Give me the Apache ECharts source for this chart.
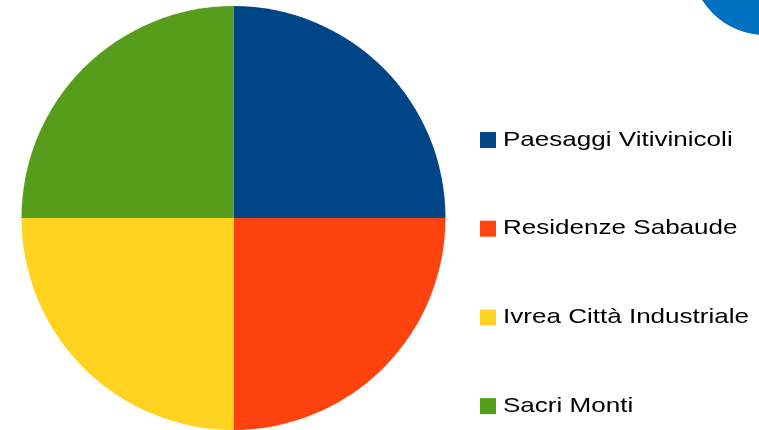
<!DOCTYPE html>
<html>
<head>
<meta charset="utf-8">
<script src="https://cdn.jsdelivr.net/npm/echarts@6/dist/echarts.min.js"></script>
<style>
  html, body { margin: 0; padding: 0; background: #fff; }
  #pie { width: 759px; height: 430px; }
</style>
</head>
<body>
<div id="pie"></div>
<script>
// categories and values
const categories = ['Paesaggi Vitivinicoli', 'Residenze Sabaude', 'Ivrea Città Industriale', 'Sacri Monti'];
const values = [1, 1, 1, 1];
const colors = ['#004586', '#ff420e', '#ffd320', '#579d1c'];

// legend layout (the labels in the picture are drawn wide, so they get stretched)
const legendTop = 132;
const legendStep = 88.7;

let myChart = echarts.init(document.getElementById('pie'));
const options = {
    animation: false,
    color: colors,
    legend: {
        orient: 'vertical',
        left: 480,
        top: legendTop,
        padding: 0,
        itemWidth: 16,
        itemHeight: 16,
        itemGap: legendStep - 16,
        icon: 'rect',
        formatter: () => '',
        textStyle: {fontSize: 16, lineHeight: 16, padding: 0},
        data: categories
    },
    graphic: [
        // blue circle cut off at the top right corner
        {type: 'circle', shape: {cx: 765, cy: -39, r: 74}, style: {fill: '#0070c0'}, z: -1}
    ].concat(categories.map((name, i) => ({
        type: 'text',
        x: 503,
        y: legendTop + 8 + i * legendStep,
        scaleX: 1.24,
        style: {
            text: name,
            fontFamily: 'Liberation Sans',
            fontSize: 21,
            fill: '#000',
            verticalAlign: 'middle',
            align: 'left'
        }
    }))),
    series: [
        {
            type: 'pie',
            center: [233.5, 218],
            radius: 212,
            startAngle: 90,
            clockwise: true,
            label: {show: false},
            labelLine: {show: false},
            emphasis: {disabled: true},
            data: categories.map((name, i) => ({name: name, value: values[i]}))
        }
    ]
};
myChart.setOption(options);
</script>
</body>
</html>
